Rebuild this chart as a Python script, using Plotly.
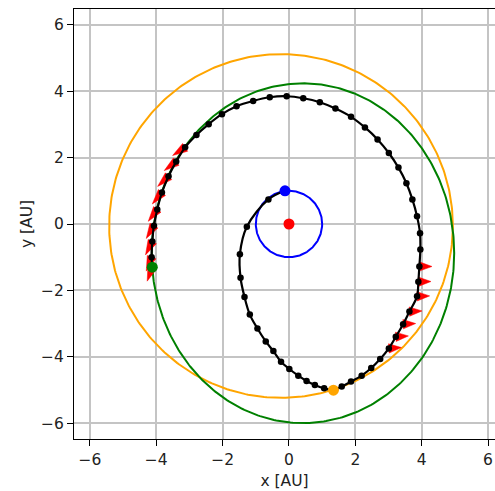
import numpy as np
import plotly.graph_objects as go

# ---------------- data ----------------
traj_x = [-0.12, -0.62, -1.27, -1.48, -1.46, -1.34, -1.18, -0.95, -0.70, -0.47,
          -0.24, 0.01, 0.28, 0.53, 0.78, 1.06, 1.34, 1.59, 1.87, 2.19,
          2.48, 2.75, 3.01, 3.22, 3.44, 3.63, 3.86, 3.90, 3.93, 3.96,
          3.95, 3.86, 3.72, 3.54, 3.30, 3.01, 2.67, 2.29, 1.87, 1.40,
          0.93, 0.43, -0.07, -0.58, -1.08, -1.58, -2.02, -2.42, -2.79, -3.13,
          -3.40, -3.63, -3.83, -3.97, -4.07, -4.12, -4.14, -4.12]
traj_y = [1.00, 0.74, -0.08, -0.91, -1.62, -2.20, -2.73, -3.15, -3.54, -3.83,
          -4.15, -4.37, -4.57, -4.73, -4.85, -4.95, -5.01, -4.90, -4.75, -4.57,
          -4.34, -4.07, -3.75, -3.40, -3.02, -2.64, -2.18, -1.74, -1.28, -0.77,
          -0.28, 0.23, 0.74, 1.23, 1.70, 2.14, 2.55, 2.91, 3.23, 3.48,
          3.67, 3.79, 3.85, 3.82, 3.71, 3.55, 3.31, 3.01, 2.68, 2.31,
          1.88, 1.44, 0.95, 0.44, -0.05, -0.53, -1.00, -1.30]

# thrust arrows: index of trajectory point, direction (degrees), length (AU)
thrust_idx = [22, 23, 24, 25, 26, 27, 28,
              49, 50, 51, 52, 53, 54, 55, 56, 57]
thrust_deg = [4, 4, 3, 3, 2, 1, 0,
              213, 217, 223, 230, 233, 239, 243, 249, 250]
thrust_len = [0.38, 0.38, 0.38, 0.38, 0.38, 0.38, 0.38,
              0.45, 0.45, 0.45, 0.45, 0.45, 0.45, 0.45, 0.45, 0.45]

# orbits: name, centre x, centre y, semi-axis x, semi-axis y, colour
orbit_names = ["Jupiter", "Target", "Earth"]
orbit_cx = [-0.24, 0.42, 0.0]
orbit_cy = [-0.06, -0.88, 0.0]
orbit_ax = [5.18, 4.56, 1.0]
orbit_ay = [5.18, 5.12, 1.0]
orbit_col = ["#FFA500", "#008000", "#0000FF"]

# special bodies
body_x = [-0.12, 1.34, -4.12, 0.0]
body_y = [1.00, -5.01, -1.30, 0.0]
body_col = ["#0000FF", "#FFA500", "#008000", "#FF0000"]

ticks = [-6, -4, -2, 0, 2, 4, 6]

# ---------------- figure ----------------
fig = go.Figure()

theta = np.linspace(0, 2 * np.pi, 400)
for name, cx, cy, ax, ay, col in zip(orbit_names, orbit_cx, orbit_cy, orbit_ax, orbit_ay, orbit_col):
    fig.add_trace(go.Scatter(x=cx + ax * np.cos(theta), y=cy + ay * np.sin(theta),
                             mode="lines", line=dict(color=col, width=2),
                             hoverinfo="skip", showlegend=False, name=name))

# thrust arrows as filled wedges
W = 0.14
ax_pts, ay_pts = [], []
for i, d, L in zip(thrust_idx, thrust_deg, thrust_len):
    x0, y0 = traj_x[i], traj_y[i]
    ux, uy = np.cos(np.radians(d)), np.sin(np.radians(d))
    px, py = -uy, ux
    ax_pts += [x0 + W * px, x0 + L * ux, x0 - W * px, x0 + W * px, None]
    ay_pts += [y0 + W * py, y0 + L * uy, y0 - W * py, y0 + W * py, None]
fig.add_trace(go.Scatter(x=ax_pts, y=ay_pts, mode="lines", fill="toself",
                         fillcolor="#FF0000", line=dict(color="#FF0000", width=0.5),
                         hoverinfo="skip", showlegend=False))

fig.add_trace(go.Scatter(x=traj_x, y=traj_y, mode="lines+markers",
                         line=dict(color="black", width=2.2, shape="spline", smoothing=1.0),
                         marker=dict(color="black", size=6.5),
                         showlegend=False))

fig.add_trace(go.Scatter(x=body_x, y=body_y, mode="markers",
                         marker=dict(color=body_col, size=11),
                         showlegend=False))

axis_common = dict(
    tickvals=ticks, showgrid=True, gridcolor="#c4c4c4", gridwidth=1.5,
    zeroline=False, showline=True, linecolor="black", linewidth=1.3,
    ticks="outside", ticklen=6, tickwidth=1.2, tickcolor="black",
    tickfont=dict(family="DejaVu Sans", size=15.5, color="#222"),
)

fig.update_layout(
    width=495, height=491,
    margin=dict(l=74, r=0, t=9, b=52),
    plot_bgcolor="white", paper_bgcolor="white",
    xaxis=dict(range=[-6.48, 6.21], mirror=True,
               title=dict(text="x [AU]", standoff=7,
                          font=dict(family="DejaVu Sans", size=15.5, color="#222")),
               **axis_common),
    yaxis=dict(range=[-6.48, 6.48], mirror=False,
               title=dict(text="y [AU]", standoff=4,
                          font=dict(family="DejaVu Sans", size=15.5, color="#222")),
               **axis_common),
)

fig.write_html("out.html")
